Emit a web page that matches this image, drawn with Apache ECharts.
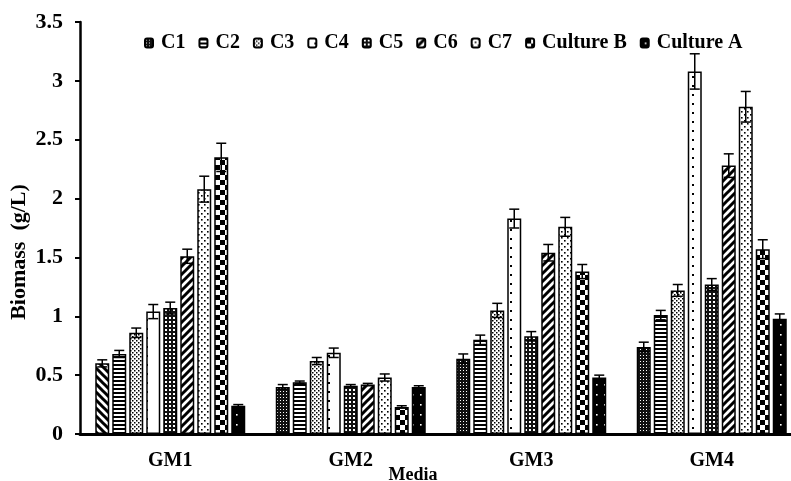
<!DOCTYPE html>
<html>
<head>
<meta charset="utf-8">
<script src="https://cdn.jsdelivr.net/npm/echarts@6/dist/echarts.min.js"></script>
<style>
  html, body { margin: 0; padding: 0; background: #fff; }
  #chart { width: 791px; height: 481px; }
</style>
</head>
<body>
<div id="chart"></div>
<script>
// Growth media on the x axis
const media = ['GM1', 'GM2', 'GM3', 'GM4'];
const cultureNames = ['C1', 'C2', 'C3', 'C4', 'C5', 'C6', 'C7', 'Culture B', 'Culture A'];

// Biomass (g/L) per culture, one value per medium
const biomassC1 = [0.60, 0.40, 0.64, 0.74];
const biomassC2 = [0.68, 0.44, 0.80, 1.01];
const biomassC3 = [0.86, 0.62, 1.05, 1.22];
const biomassC4 = [1.04, 0.69, 1.83, 3.08];
const biomassC5 = [1.07, 0.41, 0.83, 1.27];
const biomassC6 = [1.51, 0.42, 1.54, 2.28];
const biomassC7 = [2.08, 0.48, 1.76, 2.78];
const biomassCultureB = [2.35, 0.23, 1.38, 1.57];
const biomassCultureA = [0.24, 0.40, 0.48, 0.98];

// Standard deviations for the error bars
const sdC1 = [0.03, 0.02, 0.04, 0.04];
const sdC2 = [0.03, 0.01, 0.04, 0.04];
const sdC3 = [0.04, 0.03, 0.06, 0.05];
const sdC4 = [0.06, 0.04, 0.08, 0.15];
const sdC5 = [0.05, 0.01, 0.04, 0.05];
const sdC6 = [0.06, 0.01, 0.07, 0.10];
const sdC7 = [0.11, 0.03, 0.08, 0.13];
const sdCultureB = [0.12, 0.01, 0.06, 0.08];
const sdCultureA = [0.01, 0.01, 0.02, 0.04];

// Y axis ticks
const yMin = 0, yMax = 3.5, yStep = 0.5;

const biomass = [biomassC1, biomassC2, biomassC3, biomassC4, biomassC5, biomassC6, biomassC7, biomassCultureB, biomassCultureA];
const sds = [sdC1, sdC2, sdC3, sdC4, sdC5, sdC6, sdC7, sdCultureB, sdCultureA];

// ---- fill patterns (black & white print style) ----
function tile(w, h, draw, bg, fg) {
  const c = document.createElement('canvas');
  c.width = w; c.height = h;
  const g = c.getContext('2d');
  g.fillStyle = bg || '#fff';
  g.fillRect(0, 0, w, h);
  g.fillStyle = fg || '#000';
  g.strokeStyle = fg || '#000';
  draw(g);
  return { image: c, repeat: 'repeat' };
}
const patGridDense = tile(3, 3, g => { g.fillStyle = '#111'; g.fillRect(0, 0, 3, 3); g.fillStyle = '#fff'; g.fillRect(1, 1, 1, 1); });
const patGrid = tile(4, 4, g => { g.fillStyle = '#111'; g.fillRect(0, 0, 4, 4); g.fillStyle = '#fff'; g.fillRect(1, 1, 2, 2); });
const patHoriz = tile(4, 4, g => { g.fillRect(0, 0, 4, 2); });
const patDotsDense = tile(4, 4, g => { g.fillRect(0, 0, 1.5, 1.5); g.fillRect(2, 2, 1.5, 1.5); });
const patDotsSparse = tile(14, 9, g => { g.fillRect(6, 4, 2, 2); });
const patDiagFwd = tile(8, 8, g => {
  g.lineWidth = 3;
  g.beginPath();
  g.moveTo(-1, 9); g.lineTo(9, -1);
  g.moveTo(-5, 5); g.lineTo(5, -5);
  g.moveTo(3, 13); g.lineTo(13, 3);
  g.stroke();
});
const patDiagBack = tile(8, 8, g => {
  g.lineWidth = 3;
  g.beginPath();
  g.moveTo(-1, -1); g.lineTo(9, 9);
  g.moveTo(-5, 3); g.lineTo(5, 13);
  g.moveTo(3, -5); g.lineTo(13, 5);
  g.stroke();
});
const patDotsMid = tile(6, 6, g => { g.fillRect(0, 0, 1.6, 1.6); g.fillRect(3, 3, 1.6, 1.6); });
const patChecker = tile(10, 10, g => { g.fillRect(0, 0, 5, 5); g.fillRect(5, 5, 5, 5); });
const patBlackDots = tile(8, 10, g => { g.fillStyle = '#fff'; g.fillRect(4, 4, 1.6, 1.6); }, '#000');

const fills = [patGridDense, patHoriz, patDotsDense, patDotsSparse, patGrid, patDiagFwd, patDotsMid, patChecker, patBlackDots];

const FONT = "'Liberation Serif', 'Times New Roman', serif";
const BAR_W = 14, BAR_GAP = 3;
const PITCH = BAR_W + BAR_GAP;

function errorBars(slot) {
  return function (params, api) {
    const cat = api.value(0), v = api.value(1), e = api.value(2);
    const hi = api.coord([cat, v + e]);
    const lo = api.coord([cat, v - e]);
    const x = hi[0] + (slot - (cultureNames.length - 1) / 2) * PITCH;
    const half = 5;
    const st = { stroke: '#000', lineWidth: 1.5 };
    return {
      type: 'group',
      children: [
        { type: 'line', shape: { x1: x, y1: hi[1], x2: x, y2: lo[1] }, style: st },
        { type: 'line', shape: { x1: x - half, y1: hi[1], x2: x + half, y2: hi[1] }, style: st },
        { type: 'line', shape: { x1: x - half, y1: lo[1], x2: x + half, y2: lo[1] }, style: st }
      ]
    };
  };
}

const barSeries = cultureNames.map((name, i) => ({
  name: name,
  type: 'bar',
  barWidth: BAR_W,
  barGap: (BAR_GAP / BAR_W * 100) + '%',
  itemStyle: { color: fills[i], borderColor: '#000', borderWidth: 1.5 },
  data: biomass[i].map((v, k) => {
    // the C1 bar in GM1 is printed with backward diagonal hatching
    if (i === 0 && k === 0) return { value: v, itemStyle: { color: patDiagBack } };
    return v;
  }),
  z: 2
}));

const errSeries = cultureNames.map((name, i) => ({
  name: name + ' SD',
  type: 'custom',
  renderItem: errorBars(i),
  encode: { x: 0, y: 1 },
  data: biomass[i].map((v, k) => [k, v, sds[i][k]]),
  z: 5,
  silent: true
}));

const chart = echarts.init(document.getElementById('chart'), null, { renderer: 'canvas' });
chart.setOption({
  animation: false,
  backgroundColor: '#fff',
  textStyle: { fontFamily: FONT },
  grid: { left: 80, top: 22, width: 722, bottom: 47, containLabel: false, outerBoundsMode: 'none' },
  legend: {
    data: cultureNames,
    left: 144,
    top: 33,
    padding: 0,
    itemWidth: 8,
    itemHeight: 9,
    itemGap: 13,
    textStyle: { fontFamily: FONT, fontWeight: 'bold', fontSize: 20, color: '#000', padding: [0, 0, 0, 3] }
  },
  xAxis: {
    type: 'category',
    data: media,
    name: 'Media',
    nameLocation: 'middle',
    nameGap: 32,
    nameMoveOverlap: false,
    nameTextStyle: { fontFamily: FONT, fontWeight: 'bold', fontSize: 18, color: '#000', padding: [0, 56, 0, 0] },
    axisLine: { lineStyle: { color: '#000', width: 3 } },
    axisTick: { show: false },
    axisLabel: { fontFamily: FONT, fontWeight: 'bold', fontSize: 20, color: '#000', margin: 17 },
    splitLine: { show: false }
  },
  yAxis: {
    type: 'value',
    min: yMin,
    max: yMax,
    interval: yStep,
    name: 'Biomass  (g/L)',
    nameLocation: 'middle',
    nameGap: 50,
    nameMoveOverlap: false,
    nameTextStyle: { fontFamily: FONT, fontWeight: 'bold', fontSize: 22, color: '#000', padding: [0, 48, 0, 0] },
    axisLine: { show: true, lineStyle: { color: '#000', width: 2.5 } },
    axisTick: { show: true, inside: false, length: 5, lineStyle: { color: '#000', width: 2 } },
    axisLabel: { fontFamily: FONT, fontWeight: 'bold', fontSize: 22, color: '#000', margin: 17 },
    splitLine: { show: false }
  },
  series: barSeries.concat(errSeries)
});
</script>
</body>
</html>
